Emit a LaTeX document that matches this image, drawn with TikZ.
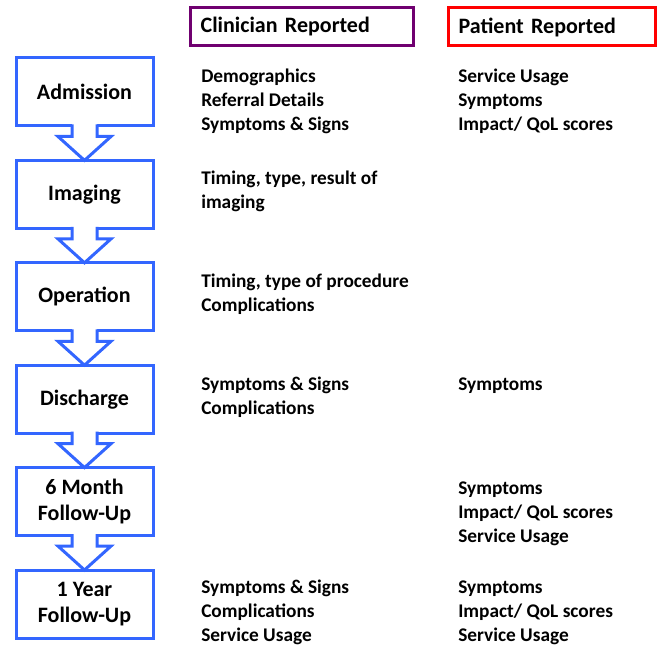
\documentclass[tikz,border=0pt]{standalone}
\usepackage{fontspec}
\setmainfont{Carlito}
\usetikzlibrary{positioning,calc}
\definecolor{flowblue}{RGB}{51,102,255}
\definecolor{clinpurple}{RGB}{112,0,112}
\definecolor{patred}{RGB}{255,0,0}

% block arrow from the bottom of one stage to the top of the next
\newcommand{\stagearrow}[2]{%
  \path[fill=white] ($(#1.south)+(-12.5,-4)$) -- ($(#1.south)+(-12.5,9)$) -- ($(#1.south)+(-26.5,9)$)
    -- ($(#2.north)+(0,1.5)$) -- ($(#1.south)+(26.5,9)$) -- ($(#1.south)+(12.5,9)$) -- ($(#1.south)+(12.5,-4)$) -- cycle;
  \draw[arrowline] ($(#1.south)+(-12.5,-3)$) -- ($(#1.south)+(-12.5,9)$) -- ($(#1.south)+(-26.5,9)$)
    -- ($(#2.north)+(0,1.5)$) -- ($(#1.south)+(26.5,9)$) -- ($(#1.south)+(12.5,9)$) -- ($(#1.south)+(12.5,-3)$);
}

\begin{document}
\begin{tikzpicture}[x=0.75pt,y=-0.75pt,
    stage/.style={draw=flowblue,line width=2.25pt,fill=white,minimum width=102.75pt,minimum height=51pt,
                  align=center,font=\fontsize{16.5}{19.5}\selectfont\bfseries,inner sep=0pt},
    arrowline/.style={draw=flowblue,line width=2.25pt},
    header/.style={line width=2.25pt,minimum height=28.5pt,inner xsep=8pt,align=left,
                   font=\fontsize{16.5}{20}\selectfont\bfseries},
    item/.style={anchor=base west,inner sep=0pt,align=left,font=\fontsize{14.5}{18}\selectfont\bfseries},
    node distance = 76.8pt]
  \useasboundingbox (0,0) rectangle (657,645);

  \node[header,draw=clinpurple,text width=151.25pt](clin) at (301.5,27) {Clinician Reported};
  \node[header,draw=patred,text width=139.25pt](pat)  at (551.5,27) {Patient Reported};

  \node[stage](adm)  at (84.5,92)      {Admission};
  \node[stage](img)  [below of = adm]  {Imaging};
  \node[stage](op)   [below of = img]  {Operation};
  \node[stage](dis)  [below of = op]   {Discharge};
  \node[stage](six)  [below of = dis]  {6 Month\\Follow-Up};
  \node[stage](year) [below of = six]  {1 Year\\Follow-Up};

  \stagearrow{adm}{img}
  \stagearrow{img}{op}
  \stagearrow{op}{dis}
  \stagearrow{dis}{six}
  \stagearrow{six}{year}

  % base is the last line of each list
  \node[item](admc)  at (201,130.5) {Demographics\\Referral Details\\Symptoms \& Signs};
  \node[item](admp)  at (458,130.5) {Service Usage\\Symptoms\\Impact/ QoL scores};
  \node[item](imgc)  at (201,208.5) {Timing, type, result of\\imaging};
  \node[item](opc)   at (201,311.5) {Timing, type of procedure\\Complications};
  \node[item](disc)  at (201,414.5) {Symptoms \& Signs\\Complications};
  \node[item](disp)  at (458,390.5) {Symptoms};
  \node[item](sixp)  at (458,542.5) {Symptoms\\Impact/ QoL scores\\Service Usage};
  \node[item](yearc) at (201,641.5) {Symptoms \& Signs\\Complications\\Service Usage};
  \node[item](yearp) at (458,641.5) {Symptoms\\Impact/ QoL scores\\Service Usage};
\end{tikzpicture}
\end{document}
